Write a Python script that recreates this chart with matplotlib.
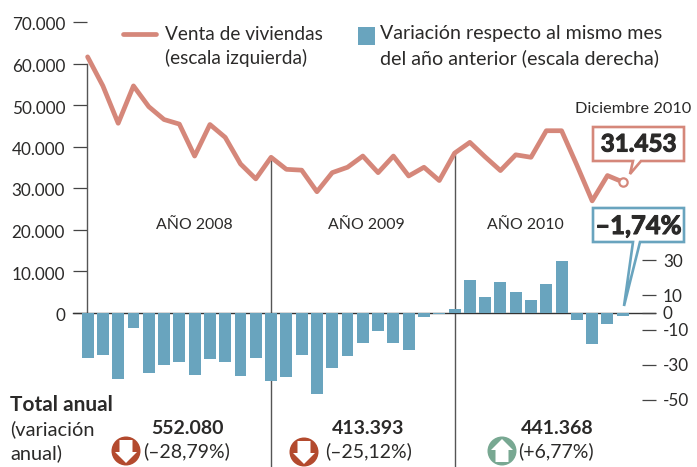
import matplotlib
matplotlib.use('Agg')
import matplotlib.pyplot as plt
import matplotlib.patheffects as pe
from matplotlib.patches import Circle, Polygon, Rectangle
from matplotlib.transforms import ScaledTranslation

plt.rcParams['font.family'] = ['Lato', 'DejaVu Sans']

# datos
ventas = [61600, 54600, 45600, 54600, 49600, 46500, 45400, 37700, 45300, 42200, 35800, 32200,
          37400, 34500, 34300, 29100, 33700, 35000, 37700, 33700, 37700, 32900, 35000, 31800,
          38400, 41000, 37500, 34200, 38000, 37400, 43800, 43800, 35500, 26900, 33000, 31453]
variacion = [-26.2, -24.5, -38.3, -9.0, -34.9, -30.3, -28.5, -36.0, -26.8, -28.5, -36.6, -26.2,
             -39.5, -37.2, -24.5, -46.9, -32.0, -25.1, -17.6, -10.7, -17.6, -21.6, -2.7, -1.0,
             1.9, 18.6, 8.8, 17.4, 11.7, 7.1, 16.3, 29.5, -4.4, -18.2, -6.7, -1.74]
meses = list(range(36))
ticks_izq = [0, 10000, 20000, 30000, 40000, 50000, 60000, 70000]
labels_izq = ['0', '10.000', '20.000', '30.000', '40.000', '50.000', '60.000', '70.000']
ticks_der = [-50, -30, -10, 0, 10, 30]
labels_der = ['-50', '-30', '-10', '0', '10', '30']
anios = ['AÑO 2008', 'AÑO 2009', 'AÑO 2010']
totales = ['552.080', '413.393', '441.368']
cambios = ['(–28,79%)', '(–25,12%)', '(+6,77%)']

ROJO = '#d5877a'
AZUL = '#69a4be'
TXT = '#2b2a29'
W, H = 697, 467
X0, DX = 87.6, 15.29      # pixel del mes 0 y pixeles por mes
Y0 = 312.5                # pixel del cero


def mes_x(px):
    return (px - X0) / DX


fig = plt.figure(figsize=(W / 100, H / 100), dpi=100)
ax = fig.add_axes([0, 0, 1, 1])
ax.patch.set_visible(False)
ax.set_xlim(mes_x(0), mes_x(W))
ax.set_ylim(-(H - Y0) / 41.5 * 10000, Y0 / 41.5 * 10000)

# separadores de año
ax.vlines([12, 24], ax.get_ylim()[0], [37400, 38400], color='#555555', lw=1.0, zorder=1)
ax.plot(meses, ventas, color=ROJO, lw=3.4, solid_joinstyle='round', solid_capstyle='round', zorder=4)
ax.plot(meses[-1], ventas[-1], 'o', ms=6, mfc='white', mec=ROJO, mew=1.6, zorder=5)

for s in ['top', 'right']:
    ax.spines[s].set_visible(False)
ax.spines['left'].set_position(('data', mes_x(87.3)))
ax.spines['left'].set_bounds(0, 60000)
ax.spines['left'].set_color('#555555')
ax.spines['left'].set_linewidth(1.0)
ax.spines['bottom'].set_position(('data', 0))
ax.spines['bottom'].set_bounds(mes_x(73), mes_x(655))
ax.spines['bottom'].set_color('#333333')
ax.spines['bottom'].set_linewidth(1.0)
ax.spines['bottom'].set_zorder(6)
ax.set_xticks([])
ax.set_yticks(ticks_izq)
ax.set_yticklabels(labels_izq, fontsize=12.3, color=TXT)
ax.tick_params(axis='y', length=10, width=0.9, color='#444444', pad=6)
baja = ScaledTranslation(0, -2 / 72 * 0.72, fig.dpi_scale_trans)
for lab in ax.get_yticklabels():
    lab.set_transform(lab.get_transform() + baja)

# barras en el eje derecho
ax2 = ax.twinx()
ax2.patch.set_visible(False)
ax2.set_ylim(-(H - Y0) / 1.74, Y0 / 1.74)
ax2.bar(meses, variacion, width=0.78, color=AZUL, zorder=2)
for s in ['top', 'left', 'bottom', 'right']:
    ax2.spines[s].set_visible(False)
ax2.spines['right'].set_position(('data', mes_x(642)))
ax2.set_yticks(ticks_der)
ax2.set_yticklabels(labels_der, fontsize=12.3, color=TXT)
ax2.tick_params(axis='y', length=10, width=0.9, color='#444444', pad=5)

# capa de textos en pixeles
top = fig.add_axes([0, 0, 1, 1])
top.set_xlim(0, W)
top.set_ylim(H, 0)
top.axis('off')


def txt(x, y, s, size=11.5, ha='left', weight='normal'):
    top.text(x, y, s, fontsize=size, ha=ha, va='center', color=TXT, fontweight=weight)


def gorda(x, y, s, size):
    t = top.text(x, y, s, fontsize=size, fontweight='bold', ha='center', va='center', color=TXT, zorder=8)
    t.set_path_effects([pe.withStroke(linewidth=0.8, foreground=TXT)])


# leyenda
top.plot([123, 156], [34, 34], color=ROJO, lw=3.4, solid_capstyle='round')
txt(165, 34, 'Venta de viviendas', 13.7)
txt(165, 58, '(escala izquierda)', 13.7)
top.add_patch(Rectangle((358, 27), 17, 18, color=AZUL, lw=0))
txt(380, 34, 'Variación respecto al mismo mes', 14.1)
txt(380, 58, 'del año anterior (escala derecha)', 14.1)

for x, s in zip([194, 366, 525], anios):
    txt(x, 225, s, 11.4, ha='center')

# llamadas
txt(575, 109, 'Diciembre 2010', 11.8)
top.add_patch(Polygon([(593, 127), (684, 127), (684, 161), (641, 161), (630, 174), (633, 161), (593, 161)],
                      fc='white', ec=ROJO, lw=1.9, joinstyle='miter', zorder=7))
gorda(638.5, 144, '31.453', 17.4)
top.add_patch(Polygon([(593, 208), (684, 208), (684, 242), (640, 242), (624, 306), (633, 242), (593, 242)],
                      fc='white', ec=AZUL, lw=1.9, joinstyle='miter', zorder=7))
gorda(638.5, 226, '–1,74%', 18.4)

# totales
txt(10, 405, 'Total anual', 15, weight='bold')
txt(10, 429, '(variación', 14.4)
txt(10, 453, 'anual)', 14.4)
for x, s in zip([187, 368, 557], totales):
    txt(x, 428, s, 14, ha='center', weight='bold')
for x, s in zip([143, 325, 518], cambios):
    txt(x, 451, s, 14)


def flecha(cx, cy, color, sube):
    top.add_patch(Circle((cx, cy), 14.5, color=color, lw=0))
    sg = -1 if sube else 1
    pts = [(-6.5, -11), (6.5, -11), (6.5, 1), (11, 1), (0, 12), (-11, 1), (-6.5, 1)]
    top.add_patch(Polygon([(cx + a, cy + sg * b) for a, b in pts], fc='white', lw=0))


flecha(126, 451, '#b34a2e', False)
flecha(304, 452, '#b34a2e', False)
flecha(502, 451, '#78a892', True)

fig.savefig('out.png', dpi=100)
